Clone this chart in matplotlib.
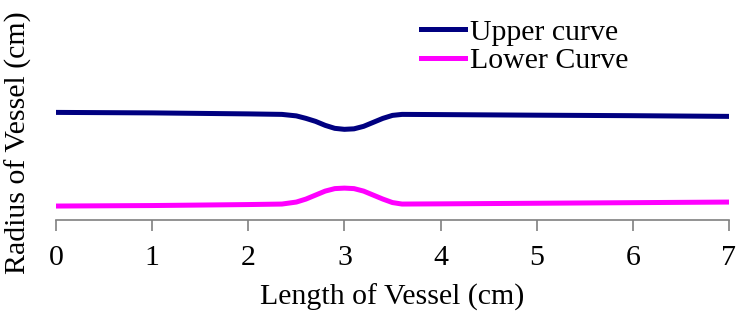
import matplotlib.pyplot as plt

plt.rcParams['font.family'] = ['Liberation Serif', 'DejaVu Serif']

# vessel geometry (radius in arbitrary units)
length = [0, 1, 2, 2.35, 2.5, 2.6, 2.7, 2.8, 2.9, 3.0, 3.1, 3.2, 3.3, 3.4, 3.5, 3.6, 4, 5, 6, 7]
upper = [1.08, 1.075, 1.065, 1.06, 1.045, 1.02, 0.99, 0.95, 0.92, 0.91,
         0.915, 0.94, 0.98, 1.02, 1.05, 1.06, 1.058, 1.052, 1.047, 1.04]
lower = [0.14, 0.145, 0.155, 0.16, 0.18, 0.21, 0.25, 0.29, 0.315, 0.32,
         0.315, 0.29, 0.25, 0.21, 0.175, 0.16, 0.162, 0.168, 0.174, 0.18]
xticks = [0, 1, 2, 3, 4, 5, 6, 7]

fig = plt.figure(figsize=(7.43, 3.15), dpi=100)
ax = fig.add_axes([0.0754, 0.3016, 0.9056, 0.68])

ax.plot(length, upper, color='#000080', lw=3.6, label='Upper curve')
ax.plot(length, lower, color='#ff00ff', lw=3.6, label='Lower Curve')

ax.set_xlim(0, 7)
ax.set_ylim(0, 2.15)
ax.set_xticks(xticks)
ax.set_yticks([])
ax.tick_params(axis='x', labelsize=21.5, color='#808080', length=8, width=1.2, pad=10)

for s in ['top', 'right', 'left']:
    ax.spines[s].set_visible(False)
ax.spines['bottom'].set_color('#808080')
ax.spines['bottom'].set_linewidth(1.2)

ax.set_xlabel('Length of Vessel (cm)', fontsize=21.5, labelpad=9)
ax.set_ylabel('Radius of Vessel (cm)', fontsize=21.5)
ax.yaxis.set_label_coords(-0.035, 0.363)

ax.legend(loc='upper left', bbox_to_anchor=(0.524, 0.995), frameon=False,
          fontsize=21.5, handlelength=1.5, handletextpad=0.15, labelspacing=0.05,
          borderaxespad=0)

fig.savefig('out.png', dpi=100)
